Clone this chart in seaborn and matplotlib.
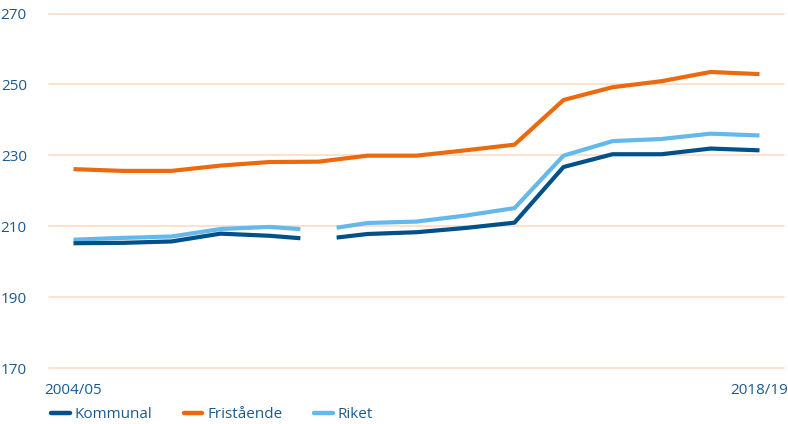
import numpy as np
import pandas as pd
import matplotlib
matplotlib.use("Agg")
import matplotlib.pyplot as plt
import seaborn as sns
from matplotlib.lines import Line2D

years = ["2004/05", "2005/06", "2006/07", "2007/08", "2008/09", "2009/10", "2010/11",
         "2011/12", "2012/13", "2013/14", "2014/15", "2015/16", "2016/17", "2017/18", "2018/19"]
kommunal = [205.2, 205.3, 205.7, 207.9, 207.3, 206.2, 207.8, 208.3, 209.5, 211.0,
            226.7, 230.3, 230.3, 231.9, 231.4]
fristaende = [226.1, 225.6, 225.6, 227.1, 228.1, 228.2, 229.9, 229.9, 231.4, 233.0,
              245.6, 249.2, 250.9, 253.5, 252.9]
riket = [206.2, 206.7, 207.1, 209.2, 209.8, 208.8, 210.9, 211.3, 213.0, 215.1,
         229.9, 234.0, 234.6, 236.1, 235.6]
series_names = ["Kommunal", "Fristående", "Riket"]
series_breaks = {"Kommunal": 5, "Fristående": None, "Riket": 5}  # series break (time-series change)

colors = {"Kommunal": "#00508a", "Fristående": "#ec6a0e", "Riket": "#64b9ea"}
text_color = "#1d5a8c"
grid_color = "#fbdfcc"
gap_half = 0.37

sns.set_theme(style="white")
plt.rcParams["font.family"] = ["Open Sans", "DejaVu Sans"]

fig = plt.figure(figsize=(7.88, 4.24), dpi=100)
ax = fig.add_axes([49 / 788, 1 - 368 / 424, (784 - 49) / 788, (368 - 13.5) / 424])

x_idx = np.arange(len(years))
values = {"Kommunal": kommunal, "Fristående": fristaende, "Riket": riket}

rows = []
for name in series_names:
    vals = np.array(values[name], dtype=float)
    brk = series_breaks[name]
    if brk is None:
        for xi, v in zip(x_idx, vals):
            rows.append({"x": xi, "value": v, "serie": name, "seg": f"{name}-0"})
    else:
        xs1 = list(x_idx[:brk]) + [brk - gap_half]
        xs2 = [brk + gap_half] + list(x_idx[brk + 1:])
        for xi in xs1:
            rows.append({"x": xi, "value": float(np.interp(xi, x_idx, vals)), "serie": name, "seg": f"{name}-0"})
        for xi in xs2:
            rows.append({"x": xi, "value": float(np.interp(xi, x_idx, vals)), "serie": name, "seg": f"{name}-1"})
df = pd.DataFrame(rows)

for yv in [170, 190, 210, 230, 250, 270]:
    ax.axhline(yv, color=grid_color, lw=1.3, zorder=0, clip_on=False)

order = ["Fristående", "Riket", "Kommunal"]
for name in order:
    sub = df[df["serie"] == name]
    for seg, g in sub.groupby("seg"):
        sns.lineplot(data=g, x="x", y="value", ax=ax, color=colors[name], lw=3.0,
                     sort=False, estimator=None, legend=False, zorder=3,
                     solid_capstyle="butt", solid_joinstyle="round")

ax.set_xlim(-0.5, 14.5)
ax.set_ylim(170, 270)
ax.set_yticks([170, 190, 210, 230, 250, 270])
ax.set_yticklabels(["170", "190", "210", "230", "250", "270"])
ax.set_xticks([0, 14])
ax.set_xticklabels([years[0], years[-1]])
ax.tick_params(axis="both", length=0, colors=text_color, labelsize=11)
ax.tick_params(axis="y", pad=16)
ax.tick_params(axis="x", pad=11)
ax.set_xlabel("")
ax.set_ylabel("")
for s in ax.spines.values():
    s.set_visible(False)
ax.grid(False)

handles = [Line2D([0], [0], color=colors[n], lw=3.2, solid_capstyle="round") for n in series_names]
leg = fig.legend(handles, series_names, loc="lower left", bbox_to_anchor=(42 / 788, -0.017),
                 ncol=3, frameon=False, handlelength=1.2, handletextpad=0.35,
                 columnspacing=2.05, fontsize=11, borderaxespad=0.2)
for t in leg.get_texts():
    t.set_color(text_color)

fig.savefig("out.png", dpi=100)
